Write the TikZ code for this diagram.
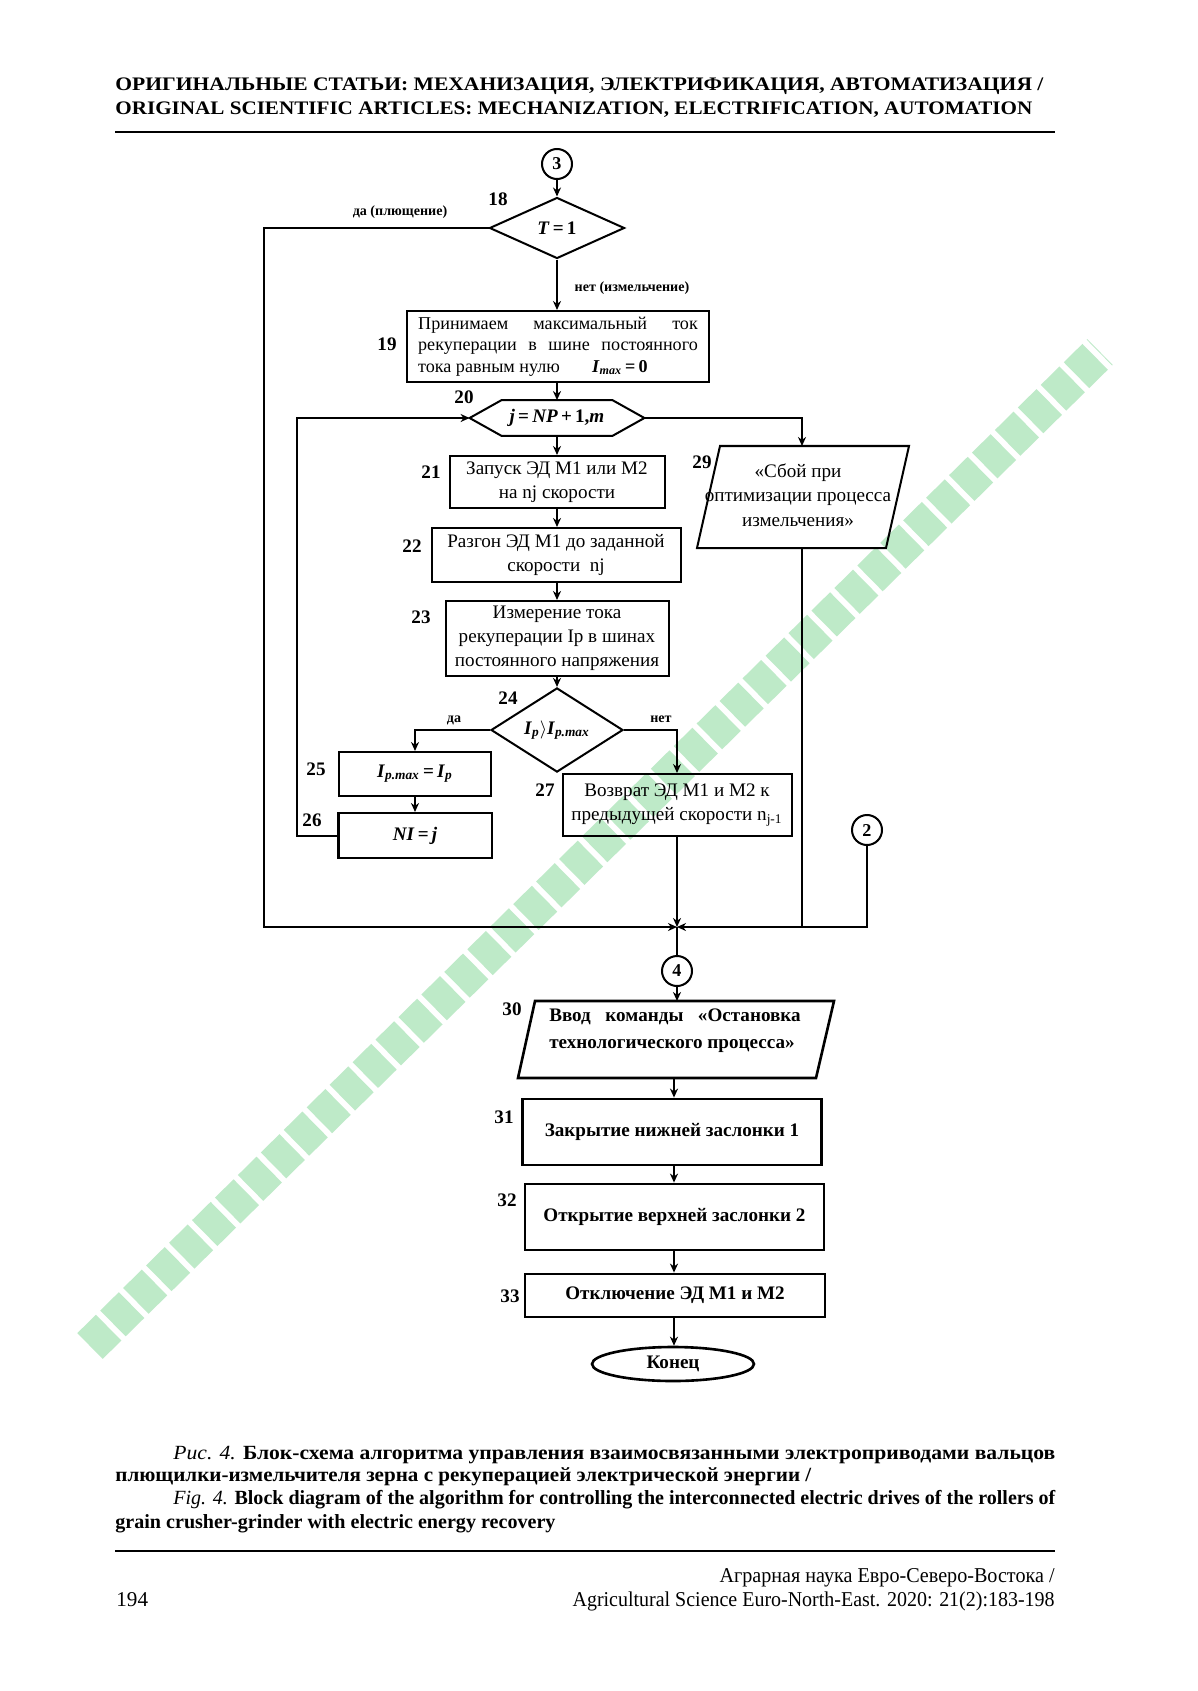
\documentclass[tikz,border=0pt]{standalone}
\usepackage{fontspec}
\setmainfont{Liberation Serif}
\usepackage{graphicx}
\usetikzlibrary{arrows.meta,shapes.geometric,calc}
\newdimen\pxd \pxd=0.49708pt
\def\pxu{0.49708pt}
\definecolor{wmgreen}{RGB}{190,234,200}
\begin{document}
\begin{tikzpicture}[x=0.49708pt, y=-0.49708pt,
  box/.style={draw, line width=1pt, rectangle, inner sep=0pt, align=center, font=\fontsize{9.5}{12}\selectfont},
  bbox/.style={box, line width=1.4pt, font=\bfseries\fontsize{9.5}{12}\selectfont},
  dia/.style={draw, diamond, line width=1pt, inner sep=0pt, font=\fontsize{9.5}{11}\selectfont},
  circ/.style={draw, circle, line width=1pt, inner sep=0pt, minimum size=30*\pxu, font=\bfseries\fontsize{9}{10}\selectfont},
  num/.style={inner sep=0pt, font=\bfseries\fontsize{9.5}{11}\selectfont},
  lab/.style={inner sep=0pt, font=\bfseries\fontsize{7}{8}\selectfont},
  conn/.style={line width=1pt},
  arr/.style={conn, -{Stealth[length=4.5pt,width=4pt]}},
  txt/.style={inner sep=0pt, anchor=base west}
]
\useasboundingbox (0,0) rectangle (1197,1691);
\fill[white] (0,0) rectangle (1197,1691);

% watermark band
\draw[wmgreen, line width=18pt, dash pattern=on 13pt off 3pt] (90,1346) -- (1100,352);

% header
\node[inner sep=0pt, anchor=west] (h1) at (115,86) {\resizebox{928\pxd}{\height}{\fontsize{9.5}{11}\selectfont\bfseries ОРИГИНАЛЬНЫЕ СТАТЬИ: МЕХАНИЗАЦИЯ, ЭЛЕКТРИФИКАЦИЯ, АВТОМАТИЗАЦИЯ /}};
\node[inner sep=0pt, anchor=west] (h2) at (115,110) {\resizebox{917\pxd}{\height}{\fontsize{9.5}{11}\selectfont\bfseries ORIGINAL SCIENTIFIC ARTICLES: MECHANIZATION, ELECTRIFICATION, AUTOMATION}};
\draw[line width=1.3pt] (115,132) -- (1055,132);

% flowchart nodes
\node[circ] (c3) at (557,164) {3};
\node[dia, minimum width=135*\pxu, minimum height=61*\pxu] (d18) at (557,228) {\textbf{\textit{T}\,=\,1}};
\node[num] (l18) at (498,199) {18};

\node[box, minimum width=302*\pxu, minimum height=71*\pxu, font=\fontsize{9}{10.7}\selectfont] (b19) at (558,346.5)
 {\makebox[139pt][s]{Принимаем максимальный ток}\\
  \makebox[139pt][s]{рекуперации в шине постоянного}\\
  \makebox[139pt][l]{тока равным нулю\hspace{16pt}\textbf{\textit{I}\textsubscript{\textit{max}}\,=\,0}}};
\node[num] (l19) at (387,344) {19};

\node[minimum width=174*\pxu, minimum height=35*\pxu, inner sep=0pt, font=\fontsize{9.5}{11}\selectfont] (n20) at (557,418) {\textbf{\textit{j}\,=\,\textit{NP}\,+\,1,\textit{m}}};
\draw[conn] (n20.west) -- ($(n20.north west)+(32,0)$) -- ($(n20.north east)+(-32,0)$) -- (n20.east) -- ($(n20.south east)+(-32,0)$) -- ($(n20.south west)+(32,0)$) -- cycle;
\node[num] (l20) at (464,397) {20};

\node[box, minimum width=215*\pxu, minimum height=52*\pxu] (b21) at (557,482) {Запуск ЭД М1 или М2\\на nj скорости};
\node[num] (l21) at (431,472) {21};
\node[box, minimum width=249*\pxu, minimum height=54*\pxu] (b22) at (556,555) {Разгон ЭД М1 до заданной\\скорости\ \ nj};
\node[num] (l22) at (412,546) {22};
\node[box, minimum width=223*\pxu, minimum height=75*\pxu] (b23) at (557,638.5) {Измерение тока\\рекуперации Ip в шинах\\постоянного напряжения};
\node[num] (l23) at (421,617) {23};
\node[dia, minimum width=132*\pxu, minimum height=64*\pxu] (d24) at (557,730) {\textbf{\textit{I}\textsubscript{\textit{p}}$\rangle$\textit{I}\textsubscript{\textit{p.max}}}};
\node[num] (l24) at (508,698) {24};
\node[box, minimum width=152*\pxu, minimum height=44*\pxu] (b25) at (415,774) {\textbf{\textit{I}\textsubscript{\textit{p.max}}\,=\,\textit{I}\textsubscript{\textit{p}}}};
\node[num] (l25) at (316,769) {25};
\node[box, minimum width=153*\pxu, minimum height=45*\pxu] (b26) at (415,835.5) {\textbf{\textit{NI}\,=\,\textit{j}}};
\node[num] (l26) at (312,820) {26};
\node[box, minimum width=229*\pxu, minimum height=62*\pxu] (b27) at (677,805) {Возврат ЭД М1 и М2 к\\предыдущей скорости n\textsubscript{j-1}};
\node[num] (l27) at (545,790) {27};

\draw[conn] (720,446) -- (909,446) -- (886,548) -- (697,548) -- cycle;
\node[inner sep=0pt, align=center, font=\fontsize{9.5}{12.3}\selectfont] (t29) at (798,495) {«Сбой при\\оптимизации процесса\\измельчения»};
\node[num] (l29) at (702,462) {29};
\coordinate (p29t) at (802,446);
\coordinate (p29b) at (802,548);
\coordinate (p29m) at (802,927);

\node[circ] (c2) at (867,830) {2};
\coordinate (m) at (677,927);
\node[circ] (c4) at (677,971) {4};

\draw[conn, line width=1.3pt] (535,1001) -- (834,1001) -- (816,1078) -- (518,1078) -- cycle;
\coordinate (p30t) at (677,1001);
\coordinate (p30b) at (674,1078);
\node[inner sep=0pt, align=left, font=\bfseries\fontsize{9.5}{13.5}\selectfont] (t30) at (675,1031) {\makebox[125pt][s]{Ввод команды «Остановка}\\технологического процесса»};
\node[num] (l30) at (512,1009) {30};

\node[bbox, minimum width=299*\pxu, minimum height=66*\pxu] (b31) at (672,1132) {Закрытие нижней заслонки 1};
\node[num] (l31) at (504,1117) {31};
\node[bbox, minimum width=299*\pxu, minimum height=66*\pxu] (b32) at (674.5,1217) {Открытие верхней заслонки 2};
\node[num] (l32) at (507,1200) {32};
\node[bbox, minimum width=300*\pxu, minimum height=43*\pxu] (b33) at (675,1295.5) {Отключение ЭД М1 и М2};
\node[num] (l33) at (510,1296) {33};
\node[draw, ellipse, line width=1.3pt, inner sep=0pt, minimum width=162*\pxu, minimum height=34*\pxu, font=\bfseries\fontsize{9.5}{11}\selectfont] (e) at (673,1364) {Конец};

% connectors
\draw[arr] (c3.south) -- (d18.north);
\draw[arr] (d18.west) -| (264,927) -- (m);
\node[lab] (lda1) at (400,212) {да (плющение)};
\draw[arr] (d18.south) -- (d18.south |- b19.north);
\node[lab] (lnet1) at (632,288) {нет (измельчение)};
\draw[arr] (b19.south -| n20.north) -- (n20.north);
\draw[arr] (n20.south) -- (n20.south |- b21.north);
\draw[arr] (b21.south) -- (b21.south |- b22.north);
\draw[arr] (b21.south |- b22.south) -- (b21.south |- b23.north);
\draw[arr] (b23.south) -- (d24.north);
\draw[arr] (d24.west) -| (b25.north);
\node[lab] (lda2) at (454,720) {да};
\draw[arr] (b25.south) -- (b26.north);
\draw[arr] (b26.west) -- (297,835.5) |- (n20.west);
\draw[arr] (d24.east) -| (b27.north);
\node[lab] (lnet2) at (661,719) {нет};
\draw[arr] (n20.east) -| (p29t);
\draw[arr] (b27.south) -- (m);
\draw[conn] (p29b) -- (p29m);
\draw[arr] (c2.south) |- (m);
\draw[conn] (m) -- (c4.north);
\draw[arr] (c4.south) -- (p30t);
\draw[arr] (p30b) -- (p30b |- b31.north);
\draw[arr] (p30b |- b31.south) -- (p30b |- b32.north);
\draw[arr] (p30b |- b32.south) -- (p30b |- b33.north);
\draw[arr] (p30b |- b33.south) -- (p30b |- e.north);

% caption
\node[txt] (cap1) at (173,1459) {\resizebox{882\pxd}{\height}{\fontsize{10}{12}\selectfont{\itshape Рис. 4.} \textbf{Блок-схема алгоритма управления взаимосвязанными электроприводами вальцов}}};
\node[txt] (cap2) at (115,1481) {\resizebox{696\pxd}{\height}{\fontsize{10}{12}\selectfont\bfseries плющилки-измельчителя зерна с рекуперацией электрической энергии /}};
\node[txt] (cap3) at (173,1504) {\resizebox{882\pxd}{\height}{\fontsize{10}{12}\selectfont{\itshape Fig. 4.} \textbf{Block diagram of the algorithm for controlling the interconnected electric drives of the rollers of}}};
\node[txt] (cap4) at (115,1528) {\resizebox{440\pxd}{\height}{\fontsize{10}{12}\selectfont\bfseries grain crusher-grinder with electric energy recovery}};

% footer
\draw[line width=1.2pt] (115,1551) -- (1055,1551);
\node[inner sep=0pt, anchor=base east] (f1) at (1055,1582) {\resizebox{335\pxd}{\height}{\fontsize{10.5}{12}\selectfont Аграрная наука Евро-Северо-Востока /}};
\node[inner sep=0pt, anchor=base east] (f2) at (1055,1606) {\resizebox{482\pxd}{\height}{\fontsize{10.5}{12}\selectfont Agricultural Science Euro-North-East. 2020: 21(2):183-198}};
\node[txt] (f3) at (116,1606) {\fontsize{10.5}{12}\selectfont 194};
\end{tikzpicture}
\end{document}
